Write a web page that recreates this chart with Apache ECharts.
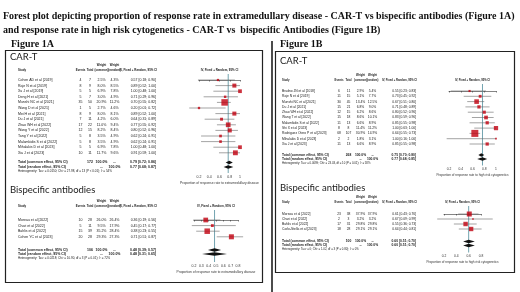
<!DOCTYPE html>
<html>
<head>
<meta charset="utf-8">
<script src="https://cdn.jsdelivr.net/npm/echarts@6/dist/echarts.min.js"></script>
<style>
html, body { margin: 0; padding: 0; background: #fff; }
#chart { width: 520px; height: 292px; }
</style>
</head>
<body>
<div id="chart"></div>
<script>
// ---- Figure 1A: CAR-T, extramedullary disease
var aCarStudies = ['Cohen AD et al [2019]', 'Raje N et al [2019]', 'Xu J et al [2019]', 'Deng H et al [2021]', 'Munshi NC et al [2021]', 'Wang D et al [2021]', 'Mei H et al [2021]', 'Du J et al [2021]', 'Zhao WH et al [2022]', 'Wang Y et al [2022]', 'Tang Y et al [2022]', 'Malamkidis S et al [2022]', 'Mihalakis D et al [2023]', 'Xia J et al [2023]'];
var aCarEvents = [4, 8, 5, 5, 35, 1, 8, 7, 17, 12, 5, 5, 5, 10];
var aCarTotals = [7, 9, 5, 7, 50, 5, 9, 11, 22, 15, 8, 8, 5, 11];
var aCarWCommon = [2.5, 8.0, 6.9, 3.0, 20.9, 2.7, 8.0, 4.2, 11.0, 8.2, 3.5, 3.5, 6.9, 11.7];
var aCarWRandom = [4.3, 8.5, 7.8, 4.9, 11.2, 4.6, 8.1, 6.0, 9.4, 8.4, 4.9, 4.9, 7.8, 9.6];
var aCarProp = [0.57, 0.89, 1.00, 0.71, 0.70, 0.20, 0.89, 0.64, 0.77, 0.80, 0.62, 0.62, 1.00, 0.91];
var aCarLower = [0.18, 0.52, 0.48, 0.29, 0.55, 0.01, 0.52, 0.31, 0.55, 0.52, 0.24, 0.24, 0.48, 0.59];
var aCarUpper = [0.90, 1.00, 1.00, 0.96, 0.82, 0.72, 1.00, 0.89, 0.92, 0.96, 0.91, 0.91, 1.00, 1.00];
var aCarCommon = [0.79, 0.72, 0.86];
var aCarRandom = [0.77, 0.68, 0.87];
var aCarTicks = [0.2, 0.4, 0.6, 0.8, 1];
var aCarHet = 'Heterogeneity: Tau\u00b2 = 0.0150; Chi\u00b2 = 27.98, df = 13 (P < 0.01); I\u00b2 = 54%';

// ---- Figure 1A: bispecific antibodies, extramedullary disease
var aBsStudies = ['Moreau et al [2022]', 'Chari et al [2022]', 'Bahlis et al [2022]', 'Cohen YC et al [2023]'];
var aBsEvents = [10, 5, 15, 20];
var aBsTotals = [28, 11, 39, 28];
var aBsWCommon = [26.0, 9.5, 35.2, 29.3];
var aBsWRandom = [26.4, 17.9, 28.4, 27.3];
var aBsProp = [0.36, 0.45, 0.38, 0.71];
var aBsLower = [0.19, 0.17, 0.23, 0.51];
var aBsUpper = [0.56, 0.77, 0.55, 0.87];
var aBsCommon = [0.48, 0.39, 0.57];
var aBsRandom = [0.48, 0.31, 0.65];
var aBsTicks = [0.2, 0.3, 0.4, 0.5, 0.6, 0.7, 0.8];
var aBsHet = 'Heterogeneity: Tau\u00b2 = 0.0218; Chi\u00b2 = 10.90, df = 3 (P = 0.01); I\u00b2 = 72%';

// ---- Figure 1B: CAR-T, high risk cytogenetics
var bCarStudies = ['Brudno JN et al [2018]', 'Raje N et al [2019]', 'Munshi NC et al [2021]', 'Du J et al [2021]', 'Zhao WH et al [2022]', 'Wang T et al [2022]', 'Malamkidis S et al [2022]', 'Shi X et al [2023]', 'Rodriguez Otero P et al [2023]', 'Mihalakis D et al [2023]', 'Xia J et al [2023]'];
var bCarEvents = [6, 11, 30, 15, 12, 15, 11, 8, 68, 2, 11];
var bCarTotals = [11, 15, 45, 21, 15, 18, 13, 8, 107, 2, 13];
var bCarWCommon = [2.9, 5.1, 13.4, 6.8, 6.2, 8.6, 6.6, 11.4, 30.9, 1.8, 6.6];
var bCarWRandom = [5.4, 7.7, 12.5, 9.0, 8.6, 10.1, 8.9, 11.2, 14.9, 3.1, 8.9];
var bCarProp = [0.55, 0.73, 0.67, 0.71, 0.80, 0.83, 0.85, 1.00, 0.64, 1.00, 0.85];
var bCarLower = [0.23, 0.45, 0.51, 0.48, 0.52, 0.59, 0.55, 0.63, 0.55, 0.16, 0.55];
var bCarUpper = [0.83, 0.92, 0.80, 0.89, 0.96, 0.96, 0.98, 1.00, 0.73, 1.00, 0.98];
var bCarCommon = [0.75, 0.70, 0.80];
var bCarRandom = [0.77, 0.68, 0.85];
var bCarTicks = [0.2, 0.4, 0.6, 0.8, 1];
var bCarHet = 'Heterogeneity: Tau\u00b2 = 0.0099; Chi\u00b2 = 23.03, df = 10 (P = 0.01); I\u00b2 = 58%';

// ---- Figure 1B: bispecific antibodies, high risk cytogenetics
var bBsStudies = ['Moreau et al [2022]', 'Chari et al [2022]', 'Bahlis et al [2022]', 'Carlo-Stella et al [2023]'];
var bBsEvents = [23, 2, 17, 18];
var bBsTotals = [38, 3, 31, 28];
var bBsWCommon = [37.9, 3.2, 29.8, 29.1];
var bBsWRandom = [37.9, 3.2, 29.8, 29.1];
var bBsProp = [0.61, 0.67, 0.55, 0.64];
var bBsLower = [0.43, 0.09, 0.36, 0.44];
var bBsUpper = [0.76, 0.99, 0.73, 0.81];
var bBsCommon = [0.60, 0.51, 0.70];
var bBsRandom = [0.60, 0.51, 0.70];
var bBsTicks = [0.2, 0.4, 0.6, 0.8];
var bBsHet = 'Heterogeneity: Tau\u00b2 = 0; Chi\u00b2 = 1.02, df = 3 (P = 0.80); I\u00b2 = 0%';

var SANS = '"Liberation Sans", Arial, sans-serif';
var SERIF = '"Liberation Serif", "Times New Roman", serif';

var chart = echarts.init(document.getElementById('chart'));

function ci(v) {
    return v[0].toFixed(2) + ' [' + v[1].toFixed(2) + '; ' + v[2].toFixed(2) + ']';
}

function addBlock(option, d, L) {
    var gi = option.grid.length;
    var n = d.studies.length;
    var rowOf = function (py) { return (py - L.y0) / L.dy; };
    var top = L.titleY - 8;
    var step = Math.round((d.ticks[1] - d.ticks[0]) * 1000) / 1000;
    var maxW = Math.max.apply(null, d.wCommon);
    var sumN = d.totals.reduce(function (a, b) { return a + b; }, 0);
    var fs = L.font;
    var hs = L.headFont;
    var cx = (L.plotL + L.plotR) / 2;

    option.grid.push({ left: L.plotL, width: L.plotR - L.plotL, top: top, height: L.axisY - top, outerBoundsMode: 'none' });
    option.xAxis.push({
        gridIndex: gi, type: 'value', min: d.ticks[0], max: d.ticks[d.ticks.length - 1], interval: step,
        axisLine: { show: true, lineStyle: { color: '#333', width: 0.6 } },
        axisTick: { show: true, length: 1.5, lineStyle: { color: '#333', width: 0.6 } },
        axisLabel: { fontSize: fs, margin: 1.8, color: '#333', fontFamily: SANS },
        splitLine: { show: false },
        name: d.axisName, nameLocation: 'middle', nameGap: L.nameGap,
        nameTextStyle: { fontSize: fs * 0.95, color: '#333', fontFamily: SANS }
    });
    option.yAxis.push({ gridIndex: gi, type: 'value', inverse: true, min: rowOf(top), max: rowOf(L.axisY), show: false });

    // table text, rows placed through the y axis
    var cells = [];
    function cell(x, py, text, align, bold, size) {
        cells.push({ x: x, row: rowOf(py), text: text, align: align, bold: bold, size: size || fs });
    }
    var C = L.cols;
    cell(L.titleX, L.titleY, d.title, 'left', false, L.titleFont);
    cell(C.wc, L.weightY, 'Weight', 'center', true, hs);
    cell(C.wr, L.weightY, 'Weight', 'center', true, hs);
    cell(L.studyX, L.headY, 'Study', 'left', true, hs);
    cell(C.ev, L.headY, 'Events', 'center', true, hs);
    cell(C.tot, L.headY, 'Total', 'center', true, hs);
    cell(C.wc, L.headY, '(common)', 'center', true, hs);
    cell(C.wr, L.headY, '(random)', 'center', true, hs);
    cell(C.ci + 1, L.headY, 'IV, Fixed + Random, 95% CI', 'right', true, hs);
    cell(cx, L.headY, 'IV, Fixed + Random, 95% CI', 'center', true, hs);
    for (var i = 0; i < n; i++) {
        var py = L.y0 + i * L.dy;
        cell(L.studyX, py, d.studies[i], 'left', false);
        cell(C.ev, py, String(d.events[i]), 'center', false);
        cell(C.tot, py, String(d.totals[i]), 'center', false);
        cell(C.wc, py, d.wCommon[i].toFixed(1) + '%', 'center', false);
        cell(C.wr, py, d.wRandom[i].toFixed(1) + '%', 'center', false);
        cell(C.ci, py, ci([d.prop[i], d.lower[i], d.upper[i]]), 'right', false);
    }
    cell(L.studyX, L.commonY, 'Total (common effect, 95% CI)', 'left', true);
    cell(C.tot, L.commonY, String(sumN), 'center', true);
    cell(C.wc, L.commonY, '100.0%', 'center', true);
    cell(C.wr, L.commonY, '--', 'center', true);
    cell(C.ci, L.commonY, ci(d.common), 'right', true);
    cell(L.studyX, L.randomY, 'Total (random effect, 95% CI)', 'left', true);
    cell(C.wc, L.randomY, '--', 'center', true);
    cell(C.wr, L.randomY, '100.0%', 'center', true);
    cell(C.ci, L.randomY, ci(d.random), 'right', true);
    cell(L.studyX, L.hetY, d.het, 'left', false, fs * 0.85);

    option.series.push({
        type: 'custom', xAxisIndex: gi, yAxisIndex: gi, silent: true,
        data: cells.map(function (c) { return [d.ticks[0], c.row]; }),
        renderItem: function (params, api) {
            var c = cells[params.dataIndex];
            var p = api.coord([d.ticks[0], c.row]);
            return {
                type: 'text', x: c.x, y: p[1],
                style: {
                    text: c.text, fill: '#1a1a1a', align: c.align, verticalAlign: 'middle',
                    font: (c.bold ? 'bold ' : '') + c.size + 'px ' + (c.size > 6 ? '"Lato", ' + SANS : SANS)
                }
            };
        }
    });

    // reference line at the random effect estimate
    option.series.push({
        type: 'custom', xAxisIndex: gi, yAxisIndex: gi, silent: true,
        encode: { x: 0, y: [1, 2] },
        data: [[d.random[0], rowOf(L.headY + 4), rowOf(L.axisY)]],
        renderItem: function (params, api) {
            var a = api.coord([api.value(0), api.value(1)]);
            var b = api.coord([api.value(0), api.value(2)]);
            return { type: 'line', shape: { x1: a[0], y1: a[1], x2: b[0], y2: b[1] }, style: { stroke: '#4f8d9c', lineWidth: 0.8 } };
        }
    });

    // confidence intervals
    option.series.push({
        type: 'custom', xAxisIndex: gi, yAxisIndex: gi, silent: true,
        encode: { x: [0, 1], y: 2 },
        data: d.studies.map(function (s, k) { return [d.lower[k], d.upper[k], k]; }),
        renderItem: function (params, api) {
            var a = api.coord([api.value(0), api.value(2)]);
            var b = api.coord([api.value(1), api.value(2)]);
            return { type: 'line', shape: { x1: a[0], y1: a[1], x2: b[0], y2: b[1] }, style: { stroke: '#666', lineWidth: 0.6 } };
        }
    });

    // study squares, area by common-effect weight
    option.series.push({
        type: 'scatter', xAxisIndex: gi, yAxisIndex: gi, silent: true, clip: false,
        symbol: 'rect',
        symbolSize: function (v) { return Math.max(1.6, L.maxSq * Math.sqrt(v[2] / maxW)); },
        itemStyle: { color: '#c0000f' },
        data: d.studies.map(function (s, k) { return [d.prop[k], k, d.wCommon[k]]; })
    });

    // pooled diamonds
    option.series.push({
        type: 'custom', xAxisIndex: gi, yAxisIndex: gi, silent: true,
        encode: { x: [0, 1, 2], y: 3 },
        data: [d.common.concat([rowOf(L.commonY)]), d.random.concat([rowOf(L.randomY)])],
        renderItem: function (params, api) {
            var r = api.value(3);
            var m = api.coord([api.value(0), r]);
            var lo = api.coord([api.value(1), r]);
            var hi = api.coord([api.value(2), r]);
            var h = 1.7;
            return {
                type: 'polygon',
                shape: { points: [[lo[0], m[1]], [m[0], m[1] - h], [hi[0], m[1]], [m[0], m[1] + h]] },
                style: { fill: '#111' }
            };
        }
    });
}

var option = {
    backgroundColor: '#fff',
    animation: false,
    grid: [], xAxis: [], yAxis: [], series: [],
    graphic: [
        { type: 'text', x: 3, y: 16, style: { text: 'Forest plot depicting proportion of response rate in extramedullary disease - CAR-T vs bispecific antibodies (Figure 1A)', font: 'bold 10px ' + SERIF, fill: '#111', verticalAlign: 'middle' } },
        { type: 'text', x: 3, y: 30, style: { text: 'and response rate in high risk cytogenetics - CAR-T vs  bispecific Antibodies (Figure 1B)', font: 'bold 10px ' + SERIF, fill: '#111', verticalAlign: 'middle' } },
        { type: 'text', x: 11, y: 44, style: { text: 'Figure 1A', font: 'bold 10px ' + SERIF, fill: '#111', verticalAlign: 'middle' } },
        { type: 'text', x: 280, y: 44, style: { text: 'Figure 1B', font: 'bold 10px ' + SERIF, fill: '#111', verticalAlign: 'middle' } },
        { type: 'rect', shape: { x: 5.5, y: 50.5, width: 257, height: 232 }, style: { fill: 'none', stroke: '#222', lineWidth: 1.2 } },
        { type: 'rect', shape: { x: 275.5, y: 51.5, width: 239, height: 221 }, style: { fill: 'none', stroke: '#222', lineWidth: 1.2 } },
        { type: 'line', shape: { x1: 272, y1: 41, x2: 272, y2: 292 }, style: { stroke: '#111', lineWidth: 1.5 } }
    ]
};

var colsA = { ev: 80.5, tot: 90, wc: 101.5, wr: 114.5, ci: 156 };
var colsB = { ev: 339, tot: 348.5, wc: 360.5, wr: 372.5, ci: 416 };

addBlock(option, {
    title: 'CAR-T', studies: aCarStudies, events: aCarEvents, totals: aCarTotals,
    wCommon: aCarWCommon, wRandom: aCarWRandom, prop: aCarProp, lower: aCarLower, upper: aCarUpper,
    common: aCarCommon, random: aCarRandom, ticks: aCarTicks, het: aCarHet,
    axisName: 'Proportion of response rate to extramedullary disease'
}, {
    plotL: 199, plotR: 240, y0: 80, dy: 5.6, titleX: 10, titleY: 57, titleFont: 9.5, weightY: 65, headY: 70,
    commonY: 162.5, randomY: 167, hetY: 171.2, axisY: 173, studyX: 18, cols: colsA, font: 3.5, headFont: 2.9, maxSq: 6.5, nameGap: 8.5
});

addBlock(option, {
    title: 'Bispecific antibodies', studies: aBsStudies, events: aBsEvents, totals: aBsTotals,
    wCommon: aBsWCommon, wRandom: aBsWRandom, prop: aBsProp, lower: aBsLower, upper: aBsUpper,
    common: aBsCommon, random: aBsRandom, ticks: aBsTicks, het: aBsHet,
    axisName: 'Proportion of response rate to extramedullary disease'
}, {
    plotL: 194, plotR: 238, y0: 220, dy: 5.6, titleX: 10, titleY: 190, titleFont: 9.5, weightY: 201, headY: 206,
    commonY: 250, randomY: 254, hetY: 258, axisY: 262, studyX: 18, cols: colsA, font: 3.5, headFont: 2.9, maxSq: 5.5, nameGap: 9
});

addBlock(option, {
    title: 'CAR-T', studies: bCarStudies, events: bCarEvents, totals: bCarTotals,
    wCommon: bCarWCommon, wRandom: bCarWRandom, prop: bCarProp, lower: bCarLower, upper: bCarUpper,
    common: bCarCommon, random: bCarRandom, ticks: bCarTicks, het: bCarHet,
    axisName: 'Proportion of response rate to high risk cytogenetics'
}, {
    plotL: 449, plotR: 496, y0: 91, dy: 5.3, titleX: 280, titleY: 61, titleFont: 9.5, weightY: 75, headY: 80,
    commonY: 155, randomY: 159, hetY: 163, axisY: 165.5, studyX: 282, cols: colsB, font: 3.3, headFont: 2.7, maxSq: 7, nameGap: 8.5
});

addBlock(option, {
    title: 'Bispecific antibodies', studies: bBsStudies, events: bBsEvents, totals: bBsTotals,
    wCommon: bBsWCommon, wRandom: bBsWRandom, prop: bBsProp, lower: bBsLower, upper: bBsUpper,
    common: bBsCommon, random: bBsRandom, ticks: bBsTicks, het: bBsHet,
    axisName: 'Proportion of response rate to high risk cytogenetics'
}, {
    plotL: 444, plotR: 481, y0: 214, dy: 5.0, titleX: 280, titleY: 188, titleFont: 9.5, weightY: 197, headY: 202,
    commonY: 241.5, randomY: 245.5, hetY: 249.5, axisY: 252.5, studyX: 282, cols: colsB, font: 3.3, headFont: 2.7, maxSq: 5, nameGap: 8.5
});

chart.setOption(option);
</script>
</body>
</html>
